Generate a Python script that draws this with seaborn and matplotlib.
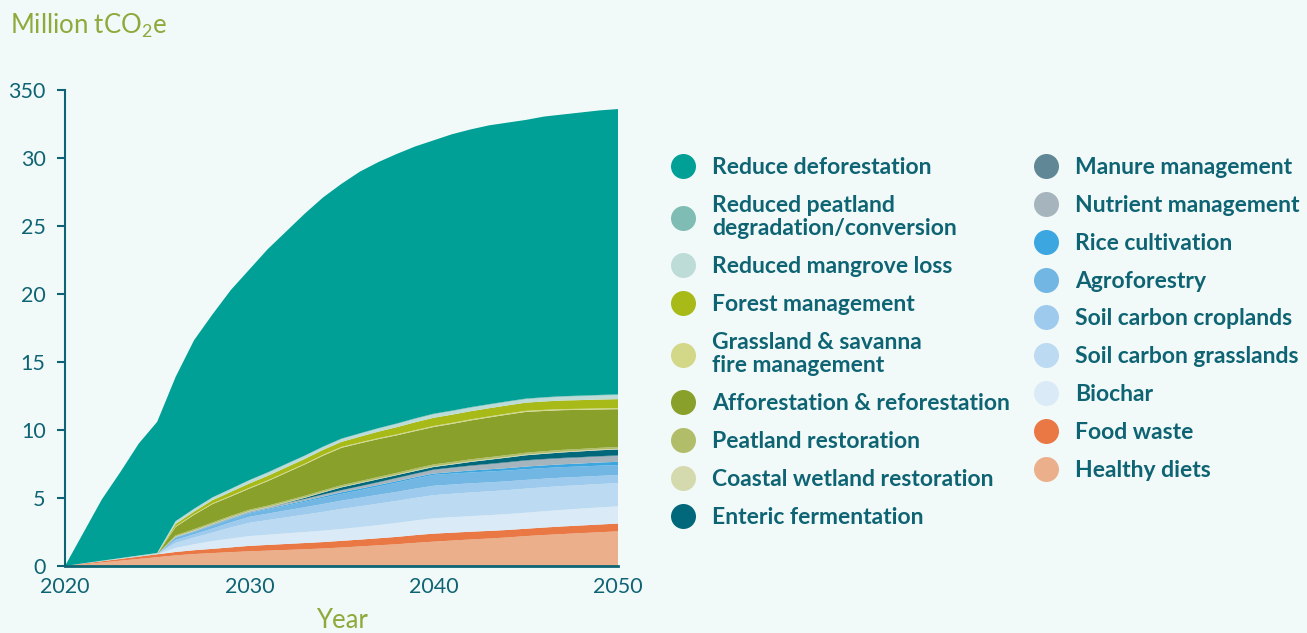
import matplotlib
matplotlib.use("Agg")
import matplotlib.pyplot as plt
from matplotlib.lines import Line2D
import seaborn as sns
import pandas as pd

# ---------------- data (Million tCO2e, layer thickness per year) ----------------
years = list(range(2020, 2051))

healthy_diets = [0.00,0.13,0.26,0.39,0.52,0.65,0.78,0.88,0.95,1.02,1.08,1.13,1.18,1.23,1.29,1.36,1.44,1.52,1.60,1.70,1.79,1.87,1.95,2.02,2.10,2.20,2.28,2.35,2.42,2.48,2.55]
food_waste = [0.00,0.05,0.09,0.13,0.17,0.21,0.25,0.28,0.31,0.35,0.40,0.42,0.44,0.46,0.47,0.49,0.50,0.52,0.54,0.57,0.59,0.58,0.57,0.56,0.55,0.54,0.55,0.56,0.56,0.57,0.57]
biochar = [0,0,0,0,0,0,0.30,0.44,0.58,0.65,0.72,0.75,0.78,0.81,0.84,0.87,0.92,0.97,1.03,1.08,1.13,1.14,1.15,1.16,1.17,1.18,1.20,1.22,1.24,1.26,1.27]
soil_grass = [0,0,0,0,0,0,0.37,0.49,0.62,0.82,0.98,1.08,1.18,1.28,1.38,1.48,1.53,1.58,1.62,1.66,1.70,1.72,1.74,1.75,1.76,1.77,1.76,1.75,1.73,1.72,1.70]
soil_crop = [0,0,0,0,0,0,0.22,0.24,0.30,0.37,0.44,0.47,0.51,0.54,0.58,0.61,0.63,0.65,0.66,0.68,0.69,0.68,0.67,0.66,0.65,0.64,0.63,0.62,0.61,0.60,0.59]
agroforestry = [0,0,0,0,0,0,0.17,0.17,0.20,0.23,0.25,0.30,0.35,0.40,0.45,0.49,0.55,0.61,0.68,0.74,0.80,0.80,0.80,0.80,0.79,0.79,0.78,0.77,0.76,0.75,0.74]
rice = [0,0,0,0,0,0,0.02,0.03,0.04,0.04,0.05,0.06,0.07,0.08,0.10,0.12,0.12,0.11,0.11,0.10,0.10,0.12,0.14,0.16,0.18,0.19,0.20,0.21,0.22,0.23,0.24]
nutrient = [0,0,0,0,0,0,0.03,0.04,0.05,0.06,0.07,0.08,0.09,0.10,0.12,0.13,0.15,0.17,0.20,0.22,0.25,0.29,0.32,0.35,0.39,0.42,0.42,0.42,0.42,0.42,0.42]
manure = [0,0,0,0,0,0,0.01,0.01,0.02,0.02,0.02,0.02,0.03,0.03,0.03,0.03,0.03,0.04,0.04,0.04,0.04,0.04,0.05,0.05,0.05,0.05,0.05,0.05,0.05,0.05,0.05]
enteric = [0,0,0,0,0,0,0,0,0,0,0,0,0.02,0.08,0.14,0.20,0.21,0.21,0.20,0.19,0.19,0.22,0.26,0.30,0.33,0.36,0.38,0.40,0.42,0.43,0.44]
coastal = [0,0,0,0,0,0,0.02,0.03,0.03,0.03,0.03,0.03,0.04,0.04,0.04,0.04,0.04,0.04,0.04,0.05,0.05,0.05,0.05,0.05,0.05,0.05,0.05,0.05,0.05,0.05,0.05]
peat_rest = [0,0,0,0,0,0,0.08,0.10,0.10,0.10,0.10,0.10,0.11,0.11,0.12,0.12,0.12,0.13,0.13,0.14,0.14,0.14,0.14,0.14,0.14,0.14,0.14,0.14,0.13,0.13,0.13]
afforest = [0,0,0,0,0,0,0.62,1.05,1.35,1.42,1.55,1.80,2.05,2.30,2.55,2.75,2.78,2.78,2.76,2.75,2.75,2.80,2.86,2.92,2.97,3.00,2.96,2.92,2.87,2.82,2.78]
grass_fire = [0,0,0,0,0,0,0.05,0.05,0.05,0.06,0.06,0.06,0.06,0.06,0.07,0.07,0.07,0.07,0.07,0.07,0.08,0.08,0.08,0.08,0.08,0.08,0.08,0.08,0.08,0.08,0.08]
forest_mgmt = [0,0,0,0,0,0,0.17,0.19,0.24,0.28,0.32,0.33,0.34,0.35,0.36,0.37,0.42,0.48,0.53,0.58,0.60,0.60,0.60,0.60,0.60,0.60,0.62,0.63,0.64,0.65,0.66]
mangrove = [0,0.02,0.04,0.06,0.08,0.10,0.18,0.18,0.18,0.20,0.22,0.22,0.22,0.21,0.20,0.20,0.21,0.22,0.23,0.24,0.25,0.25,0.25,0.25,0.25,0.25,0.26,0.27,0.28,0.29,0.30]
peat_degr = [0,0,0,0,0,0,0.03,0.03,0.03,0.03,0.03,0.04,0.04,0.04,0.04,0.04,0.04,0.04,0.04,0.05,0.05,0.05,0.05,0.05,0.05,0.05,0.05,0.05,0.05,0.05,0.05]
deforest = [0,2.25,4.51,6.32,8.23,9.64,10.60,12.39,13.45,14.62,15.48,16.41,17.09,17.78,18.32,18.73,19.24,19.56,19.82,19.99,20.10,20.32,20.42,20.50,20.49,20.49,20.64,20.71,20.82,20.92,20.98]

# legend order (top to bottom); stacking is the reverse
labels = ["Reduce deforestation", "Reduced peatland\ndegradation/conversion",
          "Reduced mangrove loss", "Forest management",
          "Grassland & savanna\nfire management", "Afforestation & reforestation",
          "Peatland restoration", "Coastal wetland restoration",
          "Enteric fermentation", "Manure management", "Nutrient management",
          "Rice cultivation", "Agroforestry", "Soil carbon croplands",
          "Soil carbon grasslands", "Biochar", "Food waste", "Healthy diets"]
series = [deforest, peat_degr, mangrove, forest_mgmt, grass_fire, afforest,
          peat_rest, coastal, enteric, manure, nutrient, rice, agroforestry,
          soil_crop, soil_grass, biochar, food_waste, healthy_diets]
colors = ["#00a096", "#7fbdb4", "#bddcd8", "#a8ba18", "#d3d788", "#89a12b",
          "#b2bd6a", "#d5d9ae", "#00687a", "#5f8796", "#a6b4be", "#3ba6df",
          "#72b6e4", "#9ecbed", "#bcdaf1", "#dbeaf7", "#e97845", "#ebb08b"]
y_ticks = [0, 5, 10, 15, 20, 25, 30, 35]
y_tick_labels = ["0", "5", "10", "15", "20", "25", "30", "350"]
x_ticks = [2020, 2030, 2040, 2050]

df = pd.DataFrame({lab: s for lab, s in zip(labels, series)}, index=years)

# ---------------- style ----------------
sns.set_theme(style="ticks")
BG = "#f2faf9"
TEAL = "#0f6474"
OLIVE = "#8fa93b"
plt.rcParams["font.family"] = ["Lato", "DejaVu Sans"]
plt.rcParams["mathtext.fontset"] = "custom"
plt.rcParams["mathtext.rm"] = "Lato"
plt.rcParams["mathtext.default"] = "regular"

fig = plt.figure(figsize=(13.07, 6.33), dpi=100, facecolor=BG)
W, H = 1307, 633
ax = fig.add_axes([65 / W, 1 - 566 / H, (618 - 65) / W, (566 - 90) / H])
ax.set_facecolor(BG)

stack_labels = labels[::-1]
ax.stackplot(df.index, [df[l] for l in stack_labels], colors=colors[::-1],
             linewidth=0, edgecolor="none")

ax.set_xlim(2020, 2050)
ax.set_ylim(0, 35)
ax.set_yticks(y_ticks)
ax.set_yticklabels(y_tick_labels)
ax.set_xticks(x_ticks)
ax.set_xticklabels([str(x) for x in x_ticks])
ax.tick_params(axis="y", length=6, width=1.5, color=TEAL, labelcolor=TEAL,
               labelsize=15.5, pad=8)
ax.tick_params(axis="x", length=0, labelcolor=TEAL, labelsize=15.5, pad=8)
for s in ["top", "right"]:
    ax.spines[s].set_visible(False)
ax.spines["left"].set_color(TEAL)
ax.spines["left"].set_linewidth(1.5)
ax.spines["bottom"].set_color(TEAL)
ax.spines["bottom"].set_linewidth(2)
ax.set_xlabel("Year", color=OLIVE, fontsize=18.5, labelpad=8)
ax.xaxis.set_label_coords(0.5, -0.088)

fig.text(10 / W, 1 - 26 / H, r"Million tCO$_{2}$e", color=OLIVE, fontsize=18.5,
         ha="left", va="center")

# ---------------- legend ----------------
def make_handles(cols):
    return [Line2D([], [], marker="o", linestyle="", markersize=18,
                   markerfacecolor=c, markeredgewidth=0) for c in cols]

common = dict(loc="upper left", frameon=False, handlelength=0.95,
              handletextpad=0.8, labelspacing=0.735, borderpad=0,
              borderaxespad=0, labelcolor=TEAL,
              prop={"size": 16.5, "weight": "bold"})
leg1 = fig.legend(make_handles(colors[:9]), labels[:9],
                  bbox_to_anchor=(672 / W, 1 - 157 / H), **common)
leg2 = fig.legend(make_handles(colors[9:]), labels[9:],
                  bbox_to_anchor=(1035 / W, 1 - 157 / H), **common)
for t in leg1.get_texts():
    t.set_linespacing(1.15)

fig.savefig("out.png", dpi=100, facecolor=BG)
